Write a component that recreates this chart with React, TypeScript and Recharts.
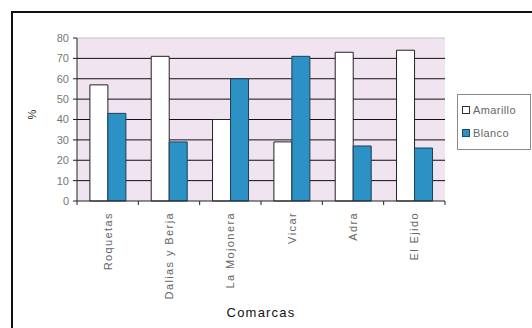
import { BarChart, Bar, XAxis, YAxis, CartesianGrid, ReferenceLine } from "recharts";

const comarcas = ["Roquetas", "Dalias y Berja", "La Mojonera", "Vicar", "Adra", "El Ejido"];
const amarillo = [57, 71, 40, 29, 73, 74];
const blanco = [43, 29, 60, 71, 27, 26];
const yTicks = [0, 10, 20, 30, 40, 50, 60, 70, 80];
const gridValues = [10, 20, 30, 40, 50, 60, 70];

const data = comarcas.map((name, i) => ({ name, Amarillo: amarillo[i], Blanco: blanco[i] }));

const W = 532;
const H = 328;
const Y_AXIS_W = 77;
const MARGIN = { top: 38, right: 87, bottom: 0, left: 0 };
const PLOT_W = W - MARGIN.left - MARGIN.right - Y_AXIS_W;
const BAND = PLOT_W / comarcas.length;

const BLUE = "#2c92c6";
const FONT = "'Liberation Sans', Arial, sans-serif";

// category tick: rotated label plus tick marks at the band edges
function CategoryTick(props: any) {
  const { x, y, payload, index } = props;
  const left = x - BAND / 2;
  return (
    <g>
      <line x1={left} y1={y - 8} x2={left} y2={y - 4} stroke="#222" />
      {index === comarcas.length - 1 && (
        <line x1={left + BAND} y1={y - 8} x2={left + BAND} y2={y - 4} stroke="#222" />
      )}
      <text
        x={x}
        y={y + 3}
        transform={`rotate(-90 ${x} ${y + 3})`}
        textAnchor="end"
        dominantBaseline="central"
        fill="#666"
        fontSize={11}
        letterSpacing={1.4}
        fontFamily={FONT}
      >
        {payload.value}
      </text>
    </g>
  );
}

const legendItems = [
  { label: "Amarillo", fill: "#fff", stroke: "#333" },
  { label: "Blanco", fill: BLUE, stroke: "#1d4a66" },
];

function LegendBox() {
  return (
    <div
      style={{
        position: "absolute",
        left: 457,
        top: 94,
        width: 72,
        height: 54,
        border: "1px solid #8a8a8a",
        background: "#fff",
        fontFamily: FONT,
        fontSize: 11,
        color: "#666",
      }}
    >
      {legendItems.map((it, i) => (
        <div
          key={it.label}
          style={{ display: "flex", alignItems: "center", height: 14, marginTop: i === 0 ? 8 : 9, paddingLeft: 4 }}
        >
          <span
            style={{ width: 6, height: 6, background: it.fill, border: `1px solid ${it.stroke}`, marginRight: 3 }}
          />
          <span style={{ letterSpacing: 0.4 }}>{it.label}</span>
        </div>
      ))}
    </div>
  );
}

export default function App() {
  return (
    <div style={{ position: "absolute", left: 0, top: 0, width: W, height: H, background: "#fff", overflow: "hidden" }}>
      <div
        style={{
          position: "absolute",
          left: 11,
          top: 11,
          width: W,
          height: H,
          borderLeft: "2px solid #111",
          borderTop: "2px solid #111",
        }}
      />
      <BarChart
        width={W}
        height={H}
        data={data}
        margin={MARGIN}
        barCategoryGap="21%"
        barGap={0}
        style={{ position: "absolute", left: 0, top: 0 }}
      >
        <CartesianGrid horizontal={false} vertical={false} fill="#f0e4f0" />
        <CartesianGrid vertical={false} horizontalValues={gridValues} stroke="#111" strokeOpacity={1} />
        <ReferenceLine y={80} stroke="#c8c0cc" />
        <XAxis
          dataKey="name"
          height={127}
          axisLine={{ stroke: "#222" }}
          tickLine={false}
          interval={0}
          tick={<CategoryTick />}
          label={{
            value: "Comarcas",
            position: "insideBottom",
            offset: 11,
            fill: "#111",
            fontSize: 13,
            letterSpacing: 1.2,
            fontFamily: FONT,
          }}
        />
        <YAxis
          width={Y_AXIS_W}
          domain={[0, 80]}
          ticks={yTicks}
          interval={0}
          tickSize={4}
          tickMargin={4}
          axisLine={{ stroke: "#222" }}
          tickLine={{ stroke: "#222" }}
          tick={{ fill: "#777", fontSize: 11, fontFamily: FONT }}
          label={{
            value: "%",
            angle: -90,
            position: "insideLeft",
            offset: 32,
            fill: "#222",
            fontSize: 11,
            fontFamily: FONT,
          }}
        />
        <Bar dataKey="Amarillo" fill="#ffffff" stroke="#222" isAnimationActive={false} />
        <Bar dataKey="Blanco" fill={BLUE} stroke="#1d3f55" isAnimationActive={false} />
      </BarChart>
      <LegendBox />
    </div>
  );
}
